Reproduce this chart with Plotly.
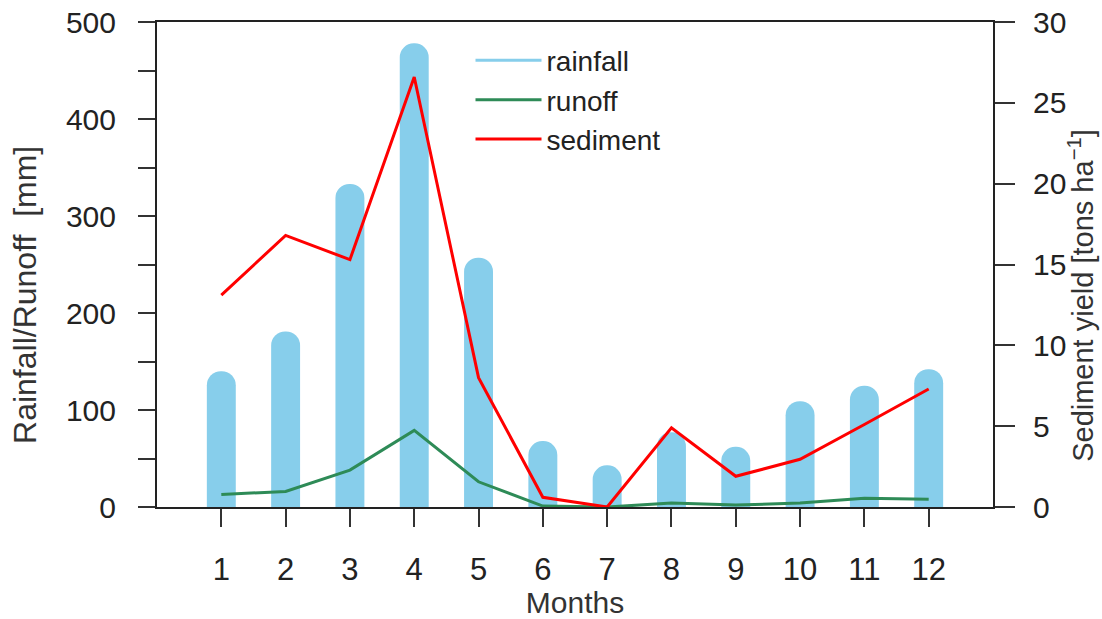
import plotly.graph_objects as go

# dados mensais
meses = list(range(1, 13))
chuva = [140, 181, 333, 478, 257, 68, 43, 77, 62, 109, 125, 142]
escoamento = [13, 16, 38, 79, 26, 1, 0, 4, 2, 4, 9, 8]
sedimento = [13.1, 16.8, 15.3, 26.6, 8.0, 0.6, 0.0, 4.9, 1.9, 2.95, 5.1, 7.3]

cor_chuva = "#87CEEB"
cor_escoamento = "#2E8B57"
cor_sedimento = "#FF0000"
fonte = "Liberation Sans, Arial, sans-serif"

fig = go.Figure()

# barras com topo arredondado
fig.add_trace(go.Bar(
    x=meses, y=chuva, name="rainfall",
    marker=dict(color=cor_chuva, cornerradius="50%", line_width=0),
    width=0.45, showlegend=False,
))
# entrada de legenda em forma de linha para a chuva
fig.add_trace(go.Scatter(
    x=[None], y=[None], mode="lines", name="rainfall",
    line=dict(color=cor_chuva, width=3), legendgroup="a",
))
fig.add_trace(go.Scatter(
    x=meses, y=escoamento, mode="lines", name="runoff",
    line=dict(color=cor_escoamento, width=3), legendgroup="b",
))
fig.add_trace(go.Scatter(
    x=meses, y=sedimento, mode="lines", name="sediment", yaxis="y2",
    line=dict(color=cor_sedimento, width=3), legendgroup="c",
))

eixo = dict(showline=True, linecolor="#222", linewidth=2, showgrid=False,
            zeroline=False, ticks="outside", tickcolor="#333", tickwidth=2,
            automargin=False)

fig.update_layout(
    width=1102, height=619,
    paper_bgcolor="white", plot_bgcolor="white",
    margin=dict(l=157, r=109, t=22, b=112),
    font=dict(family=fonte, color="#333"),
    showlegend=True,
    legend=dict(x=0.375, y=0.972, xanchor="left", yanchor="top",
                font=dict(size=28, color="#222"), bgcolor="rgba(0,0,0,0)",
                itemwidth=66, tracegroupgap=0),
    xaxis=dict(**eixo, range=[0, 13], tickvals=meses, ticklen=18,
               ticklabelstandoff=16, mirror=True,
               tickfont=dict(size=31, color="#222", family=fonte),
               title=dict(text="Months", font=dict(size=30, color="#333"), standoff=6)),
    yaxis=dict(**eixo, range=[0, 500], dtick=100, ticklen=17, ticklabelstandoff=16,
               minor=dict(dtick=50, ticks="outside", ticklen=17, tickwidth=2, tickcolor="#333"),
               tickfont=dict(size=30, color="#222", family=fonte)),
    yaxis2=dict(**eixo, range=[0, 30], overlaying="y", side="right",
                tickvals=list(range(0, 31, 5)), ticklen=20, ticklabelstandoff=12,
                tickfont=dict(size=30, color="#222", family=fonte)),
)

# títulos verticais (um pouco abaixo do centro, como no original)
fig.add_annotation(text="Rainfall/Runoff  [mm]", textangle=-90, showarrow=False,
                   xref="paper", yref="paper", x=-0.158, y=0.437,
                   xanchor="center", yanchor="middle",
                   font=dict(size=32, color="#333"))
fig.add_annotation(text="Sediment yield [tons ha<sup>−1</sup>]", textangle=-90,
                   showarrow=False, xref="paper", yref="paper", x=1.105, y=0.437,
                   xanchor="center", yanchor="middle",
                   font=dict(size=29, color="#333"))

fig.write_html("out.html", config={"displayModeBar": False},
               post_script="document.body.style.margin='0px';")
